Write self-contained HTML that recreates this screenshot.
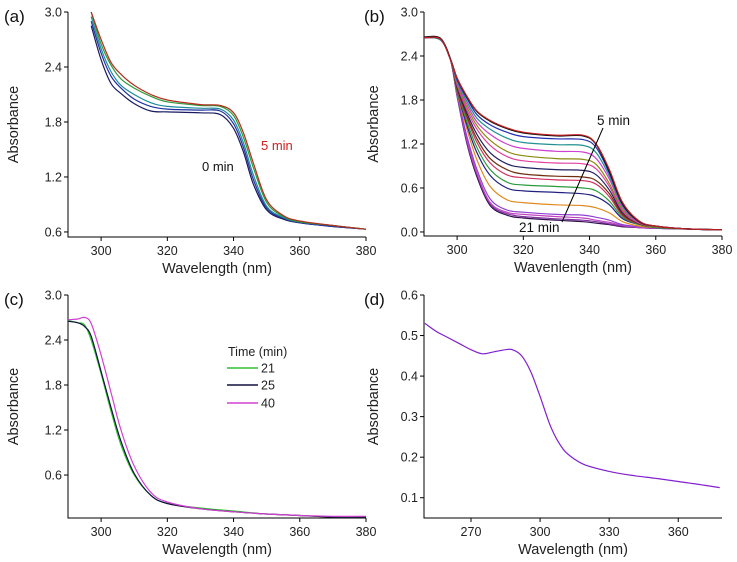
<!DOCTYPE html>
<html><head><meta charset="utf-8"><style>
body{margin:0;background:#fff}
svg{display:block;font-family:"Liberation Sans",Arial,sans-serif}
</style></head><body>
<svg id="c" width="737" height="562" viewBox="0 0 737 562"></svg>
<script>
// ---- Panel (a) data ----
const aWl=[297,300,303,306,310,315,320,330,336,340,343,346,350,355,360,370,380];
const aRed=[3.0,2.7,2.45,2.32,2.2,2.1,2.04,1.99,1.98,1.9,1.68,1.35,0.95,0.78,0.72,0.67,0.63];
const aGreen=[3.0,2.65,2.42,2.27,2.17,2.08,2.02,1.98,1.97,1.87,1.63,1.3,0.92,0.77,0.71,0.67,0.63];
const aTeal=[2.95,2.6,2.35,2.2,2.1,2.01,1.97,1.95,1.94,1.82,1.57,1.22,0.88,0.76,0.71,0.67,0.63];
const aBlue=[2.9,2.55,2.3,2.17,2.05,1.97,1.94,1.93,1.92,1.78,1.52,1.17,0.86,0.75,0.7,0.66,0.63];
const aNavy=[2.85,2.48,2.22,2.11,2.0,1.92,1.91,1.9,1.88,1.73,1.47,1.12,0.84,0.74,0.7,0.66,0.63];
const aYTicks=[0.6,1.2,1.8,2.4,3.0];
const xTicks=[300,320,340,360,380];
// ---- Panel (b) data ----
const bWl=[290,295,298,300,303,306,310,315,320,330,338,342,346,350,355,360,370,380];
const b1=[2.65,2.63,2.35,2.1,1.85,1.65,1.52,1.42,1.36,1.32,1.32,1.2,0.85,0.4,0.15,0.08,0.04,0.03];
const b2=[2.66,2.64,2.36,2.1,1.84,1.64,1.51,1.41,1.35,1.31,1.31,1.19,0.82,0.38,0.14,0.08,0.04,0.03];
const b3=[2.65,2.63,2.35,2.08,1.82,1.6,1.46,1.36,1.3,1.27,1.26,1.15,0.8,0.37,0.14,0.08,0.04,0.03];
const b4=[2.65,2.62,2.35,2.06,1.78,1.55,1.4,1.28,1.22,1.19,1.18,1.08,0.76,0.35,0.14,0.08,0.04,0.03];
const b5=[2.65,2.62,2.35,2.04,1.74,1.5,1.33,1.2,1.14,1.1,1.09,1.0,0.72,0.33,0.13,0.08,0.04,0.03];
const b6=[2.65,2.62,2.35,2.02,1.7,1.45,1.25,1.1,1.04,1.0,0.99,0.92,0.66,0.3,0.13,0.07,0.04,0.03];
const b7=[2.65,2.62,2.35,2.0,1.66,1.4,1.18,1.03,0.97,0.94,0.93,0.86,0.62,0.28,0.12,0.07,0.04,0.03];
const b8=[2.65,2.62,2.35,1.98,1.62,1.33,1.08,0.93,0.88,0.85,0.84,0.78,0.57,0.26,0.12,0.07,0.04,0.03];
const b9=[2.65,2.62,2.35,1.96,1.58,1.27,1.0,0.85,0.79,0.76,0.75,0.7,0.52,0.24,0.11,0.07,0.04,0.03];
const b10=[2.65,2.62,2.35,1.95,1.55,1.22,0.94,0.78,0.74,0.71,0.7,0.65,0.48,0.22,0.11,0.07,0.04,0.03];
const b11=[2.65,2.62,2.35,1.93,1.5,1.15,0.85,0.68,0.64,0.62,0.6,0.56,0.42,0.2,0.1,0.06,0.04,0.03];
const b12=[2.65,2.62,2.35,1.92,1.45,1.08,0.77,0.6,0.56,0.54,0.52,0.48,0.37,0.18,0.1,0.06,0.04,0.03];
const b13=[2.65,2.62,2.35,1.9,1.4,0.98,0.62,0.44,0.4,0.37,0.36,0.33,0.26,0.14,0.08,0.06,0.04,0.03];
const b14=[2.65,2.62,2.35,1.88,1.3,0.85,0.45,0.3,0.27,0.24,0.23,0.2,0.16,0.1,0.07,0.05,0.04,0.03];
const b15=[2.65,2.62,2.35,1.87,1.25,0.8,0.4,0.27,0.24,0.21,0.19,0.16,0.13,0.09,0.06,0.05,0.04,0.03];
const b16=[2.65,2.62,2.35,1.86,1.22,0.78,0.38,0.25,0.21,0.18,0.16,0.14,0.11,0.08,0.06,0.05,0.04,0.03];
const b17=[2.65,2.62,2.35,1.85,1.2,0.75,0.36,0.23,0.19,0.16,0.14,0.12,0.1,0.07,0.06,0.05,0.04,0.03];
const bYTicks=[0.0,0.6,1.2,1.8,2.4,3.0];
// ---- Panel (c) data ----
const cWl=[290,293,295,297,300,303,306,310,315,320,330,340,350,360,370,380];
const c21=[2.66,2.63,2.6,2.4,1.95,1.45,1.0,0.6,0.33,0.22,0.16,0.12,0.08,0.06,0.04,0.04];
const c25=[2.65,2.63,2.58,2.45,1.98,1.5,1.05,0.62,0.33,0.22,0.15,0.11,0.08,0.06,0.04,0.04];
const c40=[2.67,2.68,2.7,2.62,2.2,1.7,1.2,0.72,0.37,0.24,0.15,0.11,0.08,0.06,0.05,0.05];
const cYTicks=[0.6,1.2,1.8,2.4,3.0];
// ---- Panel (d) data ----
const dWl=[250,255,260,265,270,275,280,285,288,292,296,300,305,310,315,320,330,340,350,360,370,378];
const dAbs=[0.53,0.51,0.495,0.48,0.465,0.455,0.46,0.465,0.465,0.45,0.41,0.35,0.27,0.22,0.195,0.18,0.165,0.155,0.148,0.14,0.132,0.125];
const dXTicks=[270,300,330,360];
const dYTicks=[0.1,0.2,0.3,0.4,0.5,0.6];

const NS="http://www.w3.org/2000/svg";
const svg=document.getElementById('c');
function el(t,a,p){const e=document.createElementNS(NS,t);for(const k in a)e.setAttribute(k,a[k]);(p||svg).appendChild(e);return e;}
function txt(s,a,p){const e=el('text',a,p);e.textContent=s;return e;}
function smooth(pts){
  let d='M'+pts[0][0].toFixed(1)+' '+pts[0][1].toFixed(1);
  for(let i=0;i<pts.length-1;i++){
    const p0=pts[Math.max(0,i-1)],p1=pts[i],p2=pts[i+1],p3=pts[Math.min(pts.length-1,i+2)];
    const c1x=p1[0]+(p2[0]-p0[0])/6,c1y=p1[1]+(p2[1]-p0[1])/6;
    const c2x=p2[0]-(p3[0]-p1[0])/6,c2y=p2[1]-(p3[1]-p1[1])/6;
    d+=`C${c1x.toFixed(1)} ${c1y.toFixed(1)} ${c2x.toFixed(1)} ${c2y.toFixed(1)} ${p2[0].toFixed(1)} ${p2[1].toFixed(1)}`;
  }
  return d;
}
function panel(name,px0,px1,py0,py1,xmin,xmax,ymin,ymax,xt,yt,dec,xtitle,label,lx){
  const g=el('g',{});
  
  
  const X=v=>px0+(v-xmin)/(xmax-xmin)*(px1-px0);
  const Y=v=>py1-(v-ymin)/(ymax-ymin)*(py1-py0);
  const ax=el('path',{d:`M${px0} ${py0}V${py1}H${px1}`,stroke:'#000','stroke-width':1,fill:'none'},g);
  
  
  xt.forEach(v=>{el('line',{x1:X(v),x2:X(v),y1:py1,y2:py1+4,stroke:'#000'},g);
    const t=txt(String(v),{x:X(v),y:py1+18,'text-anchor':'middle','font-size':12.5,fill:'#222'},g);
    
    });
  yt.forEach(v=>{el('line',{x1:px0-4,x2:px0,y1:Y(v),y2:Y(v),stroke:'#000'},g);
    const t=txt(v.toFixed(dec),{x:px0-6,y:Y(v)+4.5,'text-anchor':'end','font-size':12.5,fill:'#222'},g);
    
    });
  const xtl=txt(xtitle,{x:(px0+px1)/2,y:py1+36,'text-anchor':'middle','font-size':14.5,fill:'#222'},g);
  
  
  const ytl=txt('Absorbance',{transform:`translate(${lx+16},${(py0+py1)/2}) rotate(-90)`,'text-anchor':'middle','font-size':14.5,fill:'#222'},g);
  
  
  const pl=txt(label,{x:lx+2,y:py0+10,'font-size':17,fill:'#111'},g);
  
  
  const cid='clip-'+name;
  const cp=el('clipPath',{id:cid},g);el('rect',{x:px0,y:py0-1,width:px1-px0+1,height:py1-py0+1},cp);
  const cg=el('g',{'clip-path':`url(#${cid})`},g);
  return {X,Y,g,line(wl,vals,color,nm){
    const d=smooth(wl.map((w,i)=>[X(w),Y(vals[i])]));
    const p=el('path',{d,stroke:color,'stroke-width':1.2,fill:'none','stroke-linejoin':'round'},cg);
    
    }};
}
// (a)
const A=panel('a',68,366,12,237,290,380,0.545,3.0,xTicks,aYTicks,1,'Wavelength (nm)','(a)',2);
A.line(aWl,aNavy,'#1a1a60','series-a-0min');
A.line(aWl,aBlue,'#2030a0','series-a-2');
A.line(aWl,aTeal,'#1c8c9c','series-a-3');
A.line(aWl,aGreen,'#2e9a3a','series-a-4');
A.line(aWl,aRed,'#b03020','series-a-5min');
let t=txt('5 min',{x:261,y:150,'font-size':13,fill:'#d02020'},A.g);


t=txt('0 min',{x:202,y:171,'font-size':13,fill:'#111'},A.g);


// (b)
const B=panel('b',424,722,12,236,290,380,-0.055,3.0,xTicks,bYTicks,1,'Wavenlength (nm)','(b)',362);
const bSeries=[b17,b16,b15,b14,b13,b12,b11,b10,b9,b8,b7,b6,b5,b4,b3,b2,b1];
const bColors=['#301050','#8030a0','#c040c0','#9040d0','#e08a20','#202080','#2a9a3a','#d03060','#703010','#202060','#e040a0','#8a8a10','#d040d0','#209090','#2030b0','#101010','#c02020'];
bSeries.forEach((s,i)=>B.line(bWl,s,bColors[i],'series-b-'+i));
el('line',{x1:603,y1:128,x2:562,y2:222,stroke:'#000','stroke-width':1},B.g);
t=txt('5 min',{x:597,y:125,'font-size':13.5,fill:'#111'},B.g);


t=txt('21 min',{x:519,y:232,'font-size':13.5,fill:'#111'},B.g);


// (c)
const C=panel('c',68,366,295,518,290,380,0.027,3.0,xTicks,cYTicks,1,'Wavelength (nm)','(c)',2);
C.line(cWl,c21,'#30c030','series-c-21');
C.line(cWl,c25,'#101040','series-c-25');
C.line(cWl,c40,'#d040d0','series-c-40');
const lg=el('g',{},C.g);


txt('Time (min)',{x:228,y:356,'font-size':12.5,fill:'#222'},lg);
[['21','#30c030',368],['25','#101040',385],['40','#d040d0',403]].forEach(r=>{
  el('line',{x1:227,x2:258,y1:r[2],y2:r[2],stroke:r[1],'stroke-width':1.5},lg);
  const e=txt(r[0],{x:261,y:r[2]+4.5,'font-size':12.5,fill:'#222'},lg);
  
  });
// (d)
const D=panel('d',424,722,295,518,249.6,379,0.05,0.6,dXTicks,dYTicks,1,'Wavelength (nm)','(d)',362);
D.line(dWl,dAbs,'#8020d0','series-d');
</script>
</body></html>
